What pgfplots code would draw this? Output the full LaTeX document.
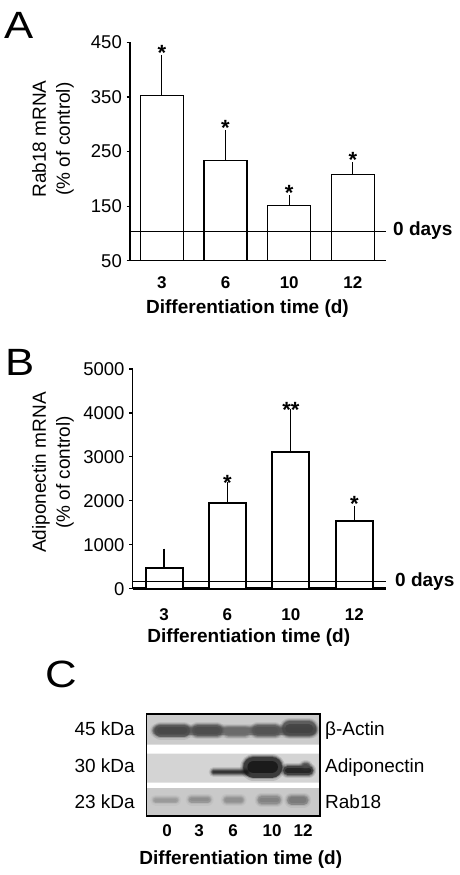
\documentclass[border=0pt]{standalone}
\usepackage{fontspec}
\setmainfont{Liberation Sans}
\newfontfamily\bigfont{Liberation Sans}[FakeStretch=1.15]
\usepackage{pgfplots}
\pgfplotsset{compat=1.18}

\newcommand\ytsize{\fontsize{18.5}{21}\selectfont}
\newcommand\xtsize{\fontsize{17}{20}\selectfont}
\newcommand\labsize{\fontsize{19}{24}\selectfont}
\newcommand\bigsize{\bigfont\fontsize{38}{42}\selectfont}
\newcommand\starsize{\fontsize{22}{24}\selectfont}

\pgfplotsset{
  barpanel/.style={
    scale only axis, anchor=south west,
    clip mode=individual,
    axis x line=bottom, axis y line=left,
    axis line style={-},
    tick align=outside, major tick length=3.5pt,
    ytick style={line width=1.2pt, black},
    xtick style={draw=none},
    xtick={0,1,2,3}, xticklabels={3,6,10,12},
    x tick label style={font=\bfseries\xtsize, anchor=base, inner sep=0pt},
    y tick label style={font=\ytsize, anchor=east, inner sep=0pt, xshift=-4.5pt},
    /pgf/number format/assume math mode=true,
    /pgf/number format/1000 sep={},
    ybar,
  },
}

% blurred blot band: x1, x2, y, core width (pt), darkness (percent black)
\newcommand\band[5]{%
  \addplot[line cap=round, line width={#4pt+6pt}, color=black!#5, opacity=0.12] coordinates {(#1,#3) (#2,#3)};
  \addplot[line cap=round, line width={#4pt+3.5pt}, color=black!#5, opacity=0.2] coordinates {(#1,#3) (#2,#3)};
  \addplot[line cap=round, line width={#4pt+1.5pt}, color=black!#5, opacity=0.35] coordinates {(#1,#3) (#2,#3)};
  \addplot[line cap=round, line width={#4pt}, color=black!#5, opacity=0.55] coordinates {(#1,#3) (#2,#3)};
  \addplot[line cap=round, line width={0.6*#4pt}, color=black!#5, opacity=0.8] coordinates {(#1,#3) (#2,#3)};
}

\begin{document}
\begin{tikzpicture}[x=1pt,y=1pt]
\path[use as bounding box] (0,0) rectangle (460,-875);

% ---------------- Panel A ----------------
\begin{axis}[barpanel,
  at={(130pt,-260.7pt)}, width=256pt, height=218.4pt,
  xmin=-0.5, xmax=3.52, ymin=50, ymax=450,
  ytick={50,150,250,350,450},
  axis line style={line width=1.2pt},
  x tick label style={yshift=-24.3pt},
  bar width=43pt]
\addplot[fill=white, draw=black, line width=1.2pt,
  error bars/.cd, y dir=plus, y explicit,
  error bar style={line width=1.2pt, black},
  error mark options={line width=1.2pt, mark size=2.6pt, black}]
  coordinates {(0,353) +- (0,69) (1,233.5) +- (0,50.5) (2,150.5) +- (0,14.5) (3,208.5) +- (0,17.5)};
\addplot[sharp plot, black, line width=0.9pt, forget plot] coordinates {(-0.5,104) (3.52,104)};
\node[font=\bfseries\starsize, anchor=base, inner sep=0pt, yshift=-2.7pt] at (axis cs:0,422) {*};
\node[font=\bfseries\starsize, anchor=base, inner sep=0pt, yshift=-2.7pt] at (axis cs:1,284) {*};
\node[font=\bfseries\starsize, anchor=base, inner sep=0pt, yshift=-2.7pt] at (axis cs:2,165) {*};
\node[font=\bfseries\starsize, anchor=base, inner sep=0pt, yshift=-2.7pt] at (axis cs:3,226) {*};
\end{axis}

% ---------------- Panel B ----------------
\begin{axis}[barpanel,
  at={(132.7pt,-588.7pt)}, width=253.3pt, height=219.7pt,
  xmin=-0.494, xmax=3.50, ymin=0, ymax=5000,
  ytick={0,1000,2000,3000,4000,5000},
  x axis line style={line width=2.6pt},
  y axis line style={line width=1.2pt},
  x tick label style={yshift=-28pt},
  bar width=37pt]
\addplot[fill=white, draw=black, line width=2pt,
  error bars/.cd, y dir=plus, y explicit,
  error bar style={line width=1.2pt, black},
  error mark options={line width=1.2pt, mark size=5pt, black}]
  coordinates {(0,471) +- (0,326) (1,1959) +- (0,357) (2,3107) +- (0,879) (3,1542) +- (0,228)};
\addplot[sharp plot, black, line width=0.9pt, forget plot] coordinates {(-0.494,170) (3.50,170)};
\node[font=\bfseries\starsize, anchor=base, inner sep=0pt, yshift=-4pt] at (axis cs:1,2316) {*};
\node[font=\bfseries\starsize, anchor=base, inner sep=0pt, yshift=-4pt] at (axis cs:2,3986) {**};
\node[font=\bfseries\starsize, anchor=base, inner sep=0pt, yshift=-1pt] at (axis cs:3,1770) {*};
\end{axis}

% ---------------- Panel C (blot) ----------------
\begin{axis}[scale only axis, anchor=south west,
  at={(146.7pt,-816pt)}, width=173.3pt, height=102pt,
  xmin=0, xmax=173.3, ymin=0, ymax=102,
  axis on top, axis line style={line width=1.3pt},
  xtick={20.3,52.3,86.3,125.3,156.3}, xticklabels={0,3,6,10,12},
  major tick length=0pt, ytick=\empty,
  x tick label style={font=\bfseries\xtsize, anchor=base, inner sep=0pt, yshift=-20.5pt}]
% strips
\addplot[fill=black!20, draw=none] coordinates {(0,71.3) (173.3,71.3) (173.3,102) (0,102) (0,71.3)};
\addplot[fill=black!17, draw=none] coordinates {(0,33.3) (173.3,33.3) (173.3,62.3) (0,62.3) (0,33.3)};
\addplot[fill=black!21, draw=none] coordinates {(0,0) (173.3,0) (173.3,28) (0,28) (0,0)};
% beta-actin
\band{10}{166}{85.5}{8}{58}
\band{14}{37}{85.5}{12}{72}
\band{51}{70}{85.5}{11}{70}
\band{82}{98}{84}{8}{58}
\band{111}{128}{85.5}{11}{68}
\band{143}{162}{87.5}{15}{74}
% adiponectin
\band{67}{100}{44}{4}{82}
\band{107}{125}{49}{21}{92}
\band{141}{162}{45.5}{9}{88}
\band{158}{160}{51}{5}{70}
% Rab18
\band{9}{29}{16}{5}{40}
\band{45}{61}{16.5}{6}{45}
\band{80}{94}{16}{6}{44}
\band{115}{130}{16}{8}{50}
\band{145}{157}{16}{9}{53}
\end{axis}

% ---------------- Texts ----------------
\node[font=\bigsize, anchor=base west, inner sep=0pt] at (4,-38) {A};
\node[font=\bigsize, anchor=base west, inner sep=0pt] at (5,-375) {B};
\node[font=\bigsize, anchor=base west, inner sep=0pt] at (45,-687) {C};

\node[font=\labsize, rotate=90, align=center, inner sep=0pt] at (53,-139) {Rab18 mRNA\\(\% of control)};
\node[font=\labsize, rotate=90, align=center, inner sep=0pt] at (53,-472.5) {Adiponectin mRNA\\(\% of control)};

\node[font=\bfseries\labsize, anchor=base, inner sep=0pt] at (247.5,-313.3) {Differentiation time (d)};
\node[font=\bfseries\labsize, anchor=base, inner sep=0pt] at (248.8,-642) {Differentiation time (d)};
\node[font=\bfseries\labsize, anchor=base, inner sep=0pt] at (240.8,-864.7) {Differentiation time (d)};

\node[font=\bfseries\labsize, anchor=base west, inner sep=0pt] at (393,-235) {0 days};
\node[font=\bfseries\labsize, anchor=base west, inner sep=0pt] at (395,-586.7) {0 days};

\node[font=\labsize, anchor=base east, inner sep=0pt] at (135,-735) {45 kDa};
\node[font=\labsize, anchor=base east, inner sep=0pt] at (135,-772) {30 kDa};
\node[font=\labsize, anchor=base east, inner sep=0pt] at (135,-808) {23 kDa};
\node[font=\labsize, anchor=base west, inner sep=0pt] at (325,-735) {β-Actin};
\node[font=\labsize, anchor=base west, inner sep=0pt] at (325,-772) {Adiponectin};
\node[font=\labsize, anchor=base west, inner sep=0pt] at (325,-808) {Rab18};
\end{tikzpicture}
\end{document}
